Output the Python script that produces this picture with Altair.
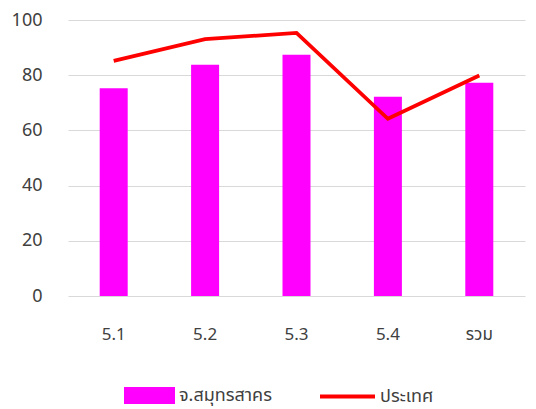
import altair as alt
import pandas as pd

categories = ["5.1", "5.2", "5.3", "5.4", "รวม"]
province = [75.3, 83.8, 87.4, 72.2, 77.3]
country = [85.2, 93.1, 95.3, 64.2, 79.9]
series_names = ["จ.สมุทรสาคร", "ประเทศ"]

df_bar = pd.DataFrame({"cat": categories, "value": province, "series": series_names[0]})
df_line = pd.DataFrame({"cat": categories, "value": country, "series": series_names[1]})

FONT = "Noto Sans Thai, Tahoma, Noto Sans, sans-serif"

x = alt.X("cat:N", sort=categories, title=None,
          scale=alt.Scale(paddingInner=0.69, paddingOuter=0.345),
          axis=alt.Axis(labelAngle=0, domain=False, ticks=False, labelPadding=30,
                        labelFontSize=17, labelColor="#404040", labelFont=FONT))
y = alt.Y("value:Q", title=None,
          scale=alt.Scale(domain=[0, 100], nice=False),
          axis=alt.Axis(values=[0, 20, 40, 60, 80, 100], domain=False, ticks=False,
                        gridColor="#D9D9D9", gridWidth=1, labelPadding=26,
                        labelFontSize=18, labelColor="#404040", labelFont=FONT))

bars = alt.Chart(df_bar).mark_bar(size=28).encode(
    x=x, y=y,
    color=alt.Color("series:N",
                    scale=alt.Scale(domain=[series_names[0]], range=["#FF00FF"]),
                    legend=alt.Legend(title=None, orient="none", legendX=56, legendY=350,
                                      symbolType="M-1,-0.333H1V0.333H-1Z", symbolSize=2601,
                                      symbolStrokeWidth=0, symbolOpacity=1,
                                      labelFontSize=18, labelFont=FONT, labelColor="#404040",
                                      labelOffset=4, padding=0))
)

line = alt.Chart(df_line).mark_line(strokeWidth=3.8).encode(
    x=x, y=y,
    color=alt.Color("series:N",
                    scale=alt.Scale(domain=[series_names[1]], range=["#FF0000"]),
                    legend=alt.Legend(title=None, orient="none", legendX=250, legendY=347,
                                      symbolType="M-1,0H1", symbolSize=3025,
                                      symbolStrokeWidth=3.8,
                                      labelFontSize=18, labelFont=FONT, labelColor="#404040",
                                      labelOffset=3, padding=0))
)

chart = alt.layer(bars, line).resolve_scale(color="independent").resolve_legend(
    color="independent"
).properties(
    width=457, height=276,
    autosize=alt.AutoSizeParams(type="none"),
    padding={"left": 60, "top": 12, "right": 3, "bottom": 113},
).configure_view(stroke=None)

chart.save("out.html", embed_options={"renderer": "svg", "actions": False})
